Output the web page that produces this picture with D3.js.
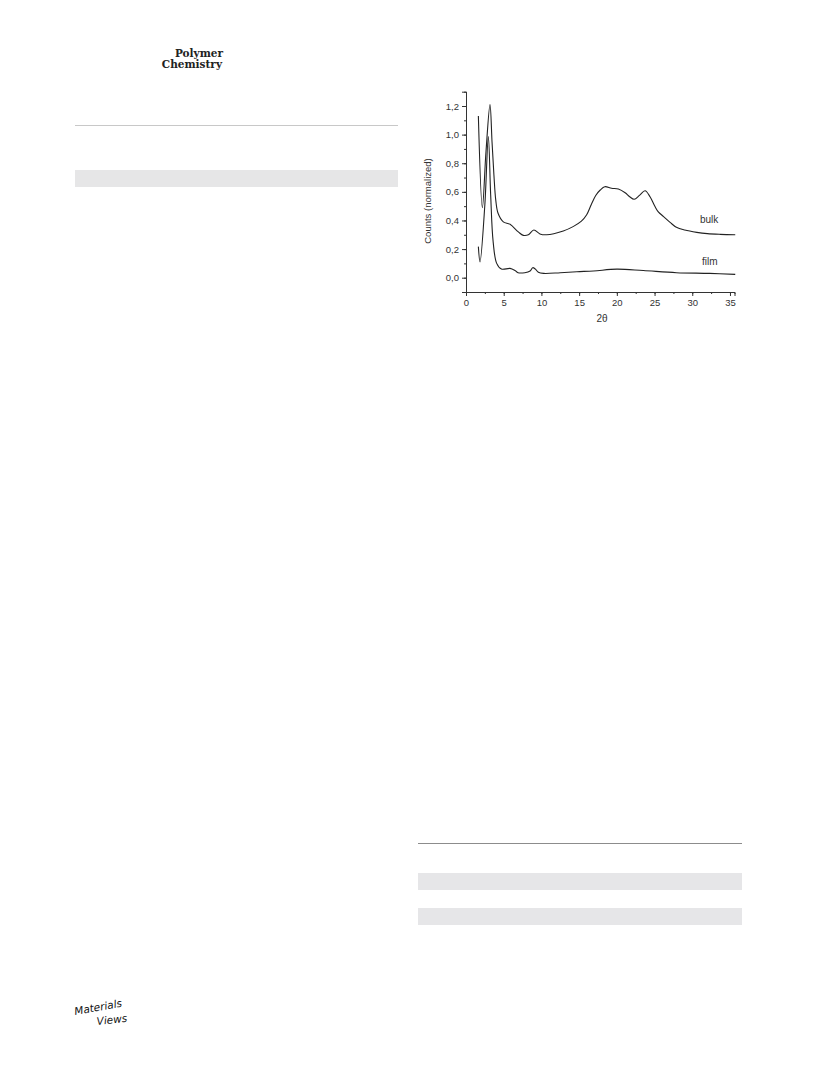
<!DOCTYPE html>
<html><head><meta charset="utf-8">
<script src="https://cdn.jsdelivr.net/npm/d3@7"></script>
<style>body{margin:0;background:#fff}svg{display:block}</style>
</head><body>
<svg id="c" width="816" height="1079"></svg>
<script>
const bulkX = [1.64,2.17,2.65,3.18,3.45,3.7,3.95,4.25,4.95,5.84,6.94,7.6,8.27,9.0,9.8,10.7,12.9,14.2,15.3,16.0,16.6,17.2,17.8,18.4,19.3,20.2,21.1,21.7,22.3,23.0,23.74,24.4,25.06,25.5,26.2,27.1,27.9,29.0,30.6,32.0,33.7,35.7];
const bulkY = [1.13,0.49,0.88,1.21,0.95,0.72,0.54,0.45,0.39,0.373,0.32,0.296,0.30,0.333,0.306,0.30,0.327,0.357,0.395,0.44,0.51,0.575,0.613,0.636,0.625,0.62,0.594,0.566,0.548,0.575,0.608,0.566,0.497,0.46,0.427,0.385,0.352,0.333,0.317,0.308,0.303,0.30];
const filmX = [1.64,1.86,2.5,2.96,3.27,3.6,4.07,4.7,5.84,6.5,6.9,7.8,8.5,8.85,9.2,9.6,10.3,12.5,14.7,16.9,20.0,23.5,27.9,32.3,35.7];
const filmY = [0.217,0.11,0.51,0.986,0.58,0.25,0.10,0.06,0.065,0.05,0.035,0.035,0.047,0.07,0.06,0.038,0.03,0.035,0.042,0.047,0.06,0.05,0.035,0.03,0.023];
const xTicks = [0,5,10,15,20,25,30,35];
const yTicks = [0.0,0.2,0.4,0.6,0.8,1.0,1.2];
const seriesLabels = ["bulk","film"];

const svg = d3.select("#c");
const x = d3.scaleLinear().domain([0,35.6]).range([466,734.5]);
const y = d3.scaleLinear().domain([-0.1,1.3]).range([292,91.7]);
const fmt = d => d3.format(".1f")(d).replace(".", ",");
const font = "'Liberation Sans', Arial, sans-serif";

// page decorations
svg.append("text").attr("x",223).attr("y",57).attr("text-anchor","end")
  .attr("font-family","'DejaVu Serif', serif").attr("font-weight","bold").attr("font-size",10.5).attr("fill","#222").text("Polymer");
svg.append("text").attr("x",222).attr("y",68).attr("text-anchor","end")
  .attr("font-family","'DejaVu Serif', serif").attr("font-weight","bold").attr("font-size",10.5).attr("fill","#222").text("Chemistry");
svg.append("line").attr("x1",75).attr("x2",398).attr("y1",125.5).attr("y2",125.5).attr("stroke","#c8c8c8").attr("stroke-width",1);
svg.append("rect").attr("x",75).attr("y",170).attr("width",323).attr("height",17).attr("fill","#e6e6e7");
svg.append("line").attr("x1",418).attr("x2",742).attr("y1",843.5).attr("y2",843.5).attr("stroke","#8c8c8c").attr("stroke-width",1);
svg.append("rect").attr("x",418).attr("y",873).attr("width",324).attr("height",17).attr("fill","#e6e6e8");
svg.append("rect").attr("x",418).attr("y",908).attr("width",324).attr("height",17).attr("fill","#e6e6e8");
svg.append("text").attr("x",75).attr("y",1015).attr("font-family","'DejaVu Sans', sans-serif").attr("font-style","italic")
  .attr("font-size",10.5).attr("fill","#111").attr("transform","rotate(-10,75,1015)").text("Materials");
svg.append("text").attr("x",97).attr("y",1025).attr("font-family","'DejaVu Sans', sans-serif").attr("font-style","italic")
  .attr("font-size",10.5).attr("fill","#111").attr("transform","rotate(-6,97,1025)").text("Views");

// axes
const gx = svg.append("g").attr("transform",`translate(0,${y.range()[0]})`);
gx.call(d3.axisBottom(x).tickValues(d3.range(0,36,2.5)).tickSize(2).tickFormat(""));
gx.append("g").call(d3.axisBottom(x).tickValues(xTicks).tickSize(4).tickPadding(3).tickFormat(d3.format("d")));
const gy = svg.append("g").attr("transform",`translate(${x.range()[0]},0)`);
gy.call(d3.axisLeft(y).tickValues(d3.range(-0.1,1.3,0.1)).tickSize(2).tickFormat(""));
gy.append("g").call(d3.axisLeft(y).tickValues(yTicks).tickSize(4).tickPadding(3).tickFormat(fmt));
svg.selectAll(".domain").attr("stroke","#333").attr("stroke-width",1);
svg.selectAll(".tick line").attr("stroke","#333");
svg.selectAll(".tick text").attr("font-family",font).attr("font-size",9.5).attr("fill","#333");

svg.append("text").attr("transform","translate(431,201) rotate(-90)").attr("text-anchor","middle")
  .attr("font-family",font).attr("font-size",9.5).attr("fill","#333").text("Counts (normalized)");
svg.append("text").attr("x",602).attr("y",322).attr("text-anchor","middle")
  .attr("font-family",font).attr("font-size",10).attr("fill","#333").text("2θ");

const line = d3.line().x(d=>x(d[0])).y(d=>y(d[1])).curve(d3.curveCatmullRom.alpha(0.5));
const data = [d3.zip(bulkX,bulkY), d3.zip(filmX,filmY)];
svg.selectAll("path.s").data(data).join("path").attr("class","s")
  .attr("d",line).attr("fill","none").attr("stroke","#222").attr("stroke-width",1.1);

svg.append("text").attr("x",700).attr("y",223).attr("font-family",font).attr("font-size",10).attr("fill","#333").text(seriesLabels[0]);
svg.append("text").attr("x",702).attr("y",265).attr("font-family",font).attr("font-size",10).attr("fill","#333").text(seriesLabels[1]);
</script>
</body></html>
